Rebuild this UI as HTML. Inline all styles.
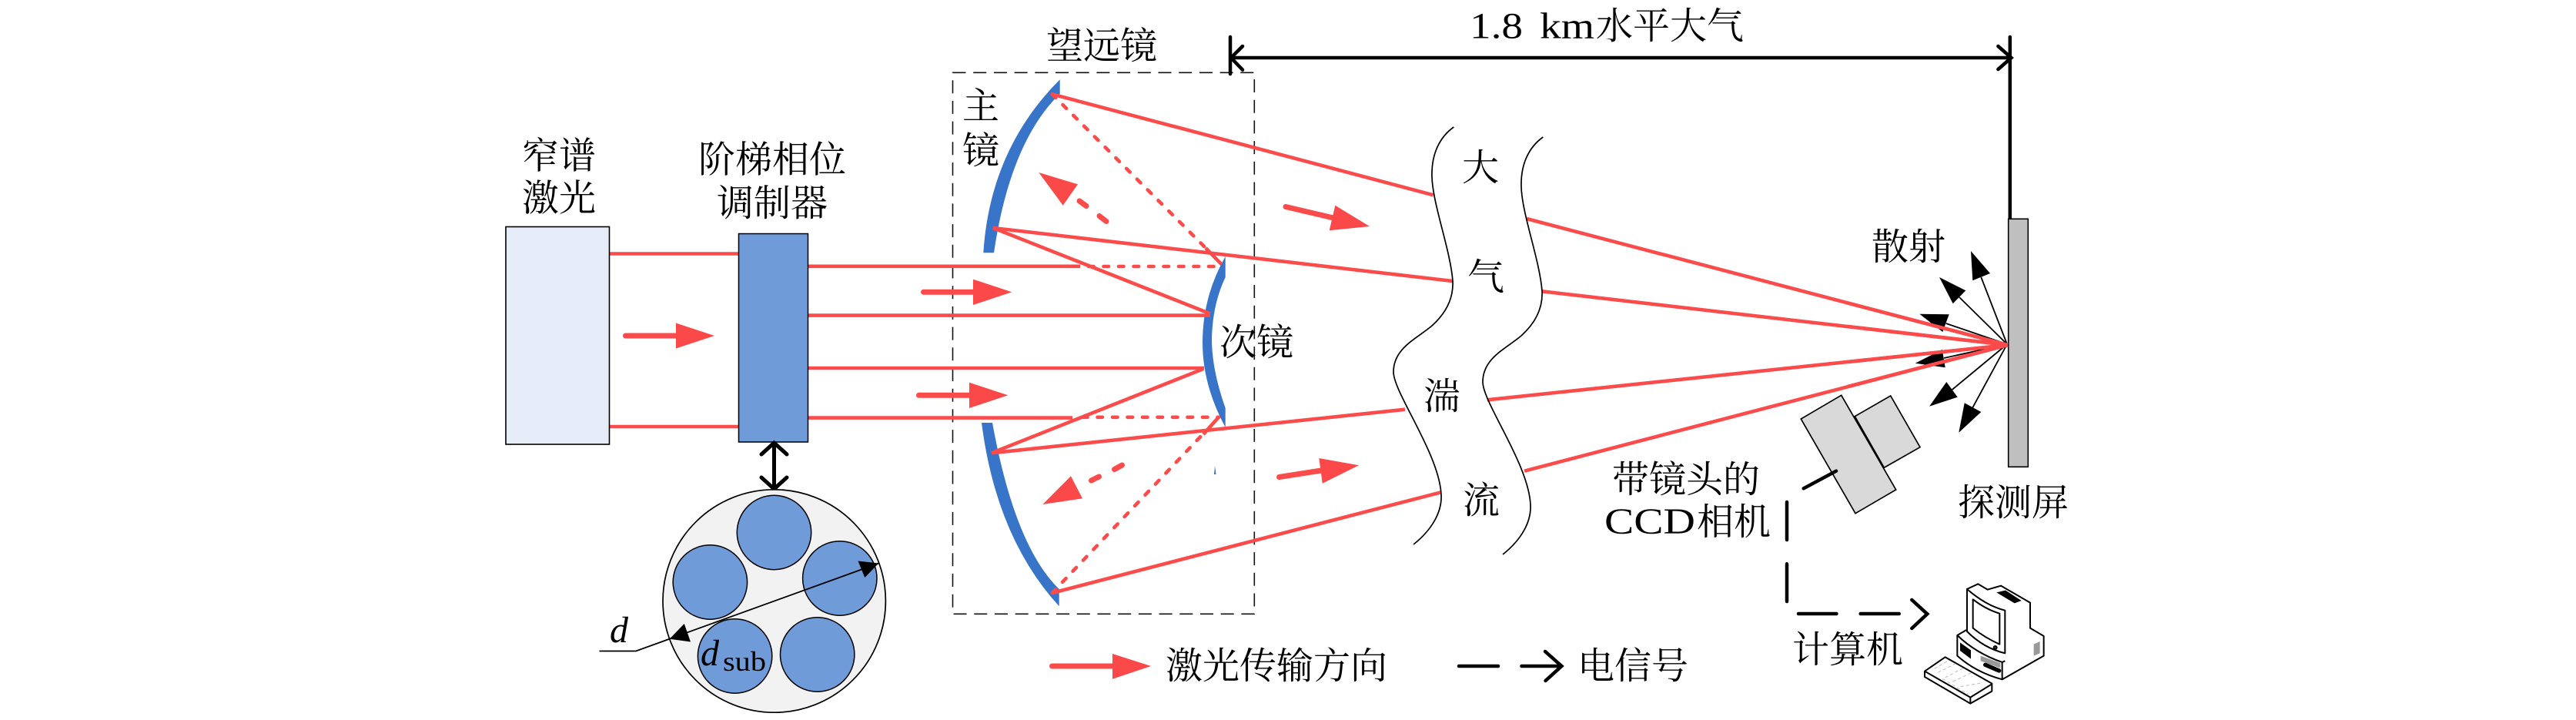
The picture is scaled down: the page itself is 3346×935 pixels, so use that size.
<!DOCTYPE html>
<html lang="zh"><head><meta charset="utf-8"><title>Diagram</title>
<style>
html,body{margin:0;padding:0;background:#fff;width:3346px;height:935px;overflow:hidden}
svg{display:block}
text{font-family:"Liberation Serif","Noto Serif CJK SC",serif;font-size:48px;fill:#000}
.r{stroke:#fb4b4b;stroke-width:4.6;fill:none}
.rd{stroke:#fb4b4b;stroke-width:4.6;fill:none;stroke-dasharray:6.5 13;stroke-linecap:round}
.ra{stroke:#fb4b4b;stroke-width:7;fill:none;stroke-linecap:round}
.rh{fill:#fb4848}
.k{stroke:#000;stroke-width:4.5;fill:none;stroke-linecap:round;stroke-linejoin:miter}
.s{stroke:#000;stroke-width:1.7;fill:none}
.h{fill:#000}
</style></head><body>
<svg xmlns="http://www.w3.org/2000/svg" width="3346" height="935" viewBox="0 0 3346 935">
<rect width="3346" height="935" fill="#fff"/>

<!-- telescope box -->
<rect x="1237.5" y="94.3" width="391.8" height="703" fill="none" stroke="#111" stroke-width="1.6" stroke-dasharray="17 9.7"/>

<!-- laser -->
<line class="r" x1="790" y1="329.5" x2="960" y2="329.5"/>
<line class="r" x1="790" y1="554" x2="960" y2="554"/>
<rect x="657" y="294.5" width="134.5" height="282.5" fill="#e6edf8" stroke="#000" stroke-width="1.6"/>
<line class="ra" x1="812.5" y1="436" x2="880" y2="436"/>
<polygon class="rh" points="878,419.5 928,436 878,452.5"/>

<!-- mirrors -->
<path fill="#3874c8" d="M1277.3,328.3 Q1286,194 1376.7,103.3 L1376.7,121.7 Q1312,185 1291,328.3 Z"/>
<path fill="#3874c8" d="M1275,549 Q1294,698 1375.7,787.3 L1375.7,765 Q1318,709 1289,549 Z"/>
<path fill="#3874c8" d="M1591.7,333 L1591.7,360 Q1575,395 1574,440 Q1574,480 1591.7,530 L1591.7,555 Q1562,500 1562,445 Q1562,385 1591.7,333 Z"/>
<polygon fill="#3874c8" points="1578,605 1579.5,616 1577,616"/>

<!-- incoming rays -->
<line class="r" x1="1049" y1="345.8" x2="1403" y2="345.8"/>
<line class="rd" x1="1414" y1="346" x2="1585" y2="346"/>
<line class="r" x1="1049" y1="409.6" x2="1572" y2="409.6"/>
<line class="r" x1="1049" y1="478" x2="1564" y2="478"/>
<line class="r" x1="1049" y1="542.6" x2="1393" y2="542.6"/>
<line class="rd" x1="1406" y1="541.8" x2="1583" y2="541.8"/>

<!-- reflected rays -->
<line class="r" x1="1571.7" y1="407.3" x2="1290" y2="296"/>
<line class="r" x1="1563" y1="479" x2="1288" y2="588.3"/>
<line class="rd" x1="1366.7" y1="122.3" x2="1570" y2="326"/>
<line class="r" x1="1566" y1="322" x2="1586.7" y2="343.3"/>
<line class="rd" x1="1366.7" y1="770" x2="1565" y2="561"/>
<line class="r" x1="1563" y1="564" x2="1583" y2="541.7"/>

<!-- outgoing -->
<line class="r" x1="1366.7" y1="122.3" x2="1861.7" y2="253.3"/>
<line class="r" x1="1983" y1="284" x2="2608" y2="448"/>
<line class="r" x1="1290" y1="296" x2="1886.7" y2="365"/>
<line class="r" x1="2003" y1="378.3" x2="2608" y2="448"/>
<line class="r" x1="1288" y1="588.3" x2="1825" y2="531.7"/>
<line class="r" x1="1931.7" y1="519.3" x2="2608" y2="448"/>
<line class="r" x1="1366.7" y1="770" x2="1871.7" y2="639.3"/>
<line class="r" x1="1980" y1="611.7" x2="2608" y2="448"/>

<!-- direction arrows -->
<line class="ra" x1="1199.5" y1="379.3" x2="1266" y2="379.3"/>
<polygon class="rh" points="1264,362.7 1314.3,379.3 1264,396"/>
<line class="ra" x1="1193.5" y1="513.3" x2="1261" y2="513.3"/>
<polygon class="rh" points="1259,496.7 1309.3,513.3 1259,530"/>
<polygon class="rh" points="1349.3,224 1400,239.3 1380.7,266.7"/>
<line class="ra" x1="1402" y1="261" x2="1411" y2="267.5"/>
<line class="ra" x1="1428" y1="280.5" x2="1437" y2="287.5"/>
<polygon class="rh" points="1354.3,655 1391,618.3 1406,647.3"/>
<line class="ra" x1="1417.5" y1="624" x2="1427.5" y2="619"/>
<line class="ra" x1="1447.5" y1="609.5" x2="1457.5" y2="604"/>
<line class="ra" x1="1670" y1="268.5" x2="1732" y2="283"/>
<polygon class="rh" points="1734.3,266.7 1726.7,299.3 1779,294"/>
<line class="ra" x1="1661.5" y1="619.5" x2="1716" y2="611"/>
<polygon class="rh" points="1713.3,595 1717.7,627.7 1765,604.3"/>

<!-- turbulence -->
<g fill="none" stroke="#000" stroke-width="1.7">
<path d="M1888.3,165 C1870,178 1859,200 1860,230 C1861,265 1884,325 1887,365 C1888,385 1880,405 1860,423 C1840,440 1810,452 1810,483 C1810,510 1870,590 1872,643 C1873,665 1860,688 1836,707"/>
<path transform="translate(116,13)" d="M1888.3,165 C1870,178 1859,200 1860,230 C1861,265 1884,325 1887,365 C1888,385 1880,405 1860,423 C1840,440 1810,452 1810,483 C1810,510 1870,590 1872,643 C1873,665 1860,688 1836,707"/>
</g>

<!-- modulator -->
<rect x="959.5" y="303.5" width="90" height="270.5" fill="#6f9bd9" stroke="#000" stroke-width="1.5"/>
<line x1="1005.5" y1="576" x2="1005.5" y2="635" stroke="#000" stroke-width="5"/>
<polyline class="k" style="stroke-width:5" points="989,590 1005.5,575 1022,590"/>
<polyline class="k" style="stroke-width:5" points="989,620 1005.5,635 1022,620"/>

<!-- aperture -->
<circle cx="1005.7" cy="780.5" r="144.7" fill="#f2f2f2" stroke="#000" stroke-width="1.7"/>
<g fill="#6f9bd9" stroke="#000" stroke-width="1.5">
<circle cx="1005.5" cy="691.5" r="48.2"/>
<circle cx="922.4" cy="756" r="48.2"/>
<circle cx="1090.8" cy="751" r="48.2"/>
<circle cx="954.6" cy="852" r="48.2"/>
<circle cx="1061.7" cy="850" r="48.2"/>
</g>
<polyline fill="none" stroke="#000" stroke-width="1.8" points="778.5,845.5 826,845.5 1141.3,731.5"/>
<polygon class="h" points="1141.3,731.5 1114.5,728.5 1123.3,750"/>
<polygon class="h" points="869.6,829.7 888.8,810 897,833.5"/>
<text x="792" y="834" font-style="italic" style="font-size:48px">d</text>
<text x="910" y="864" font-style="italic" style="font-size:48px">d</text>
<text x="939" y="871" textLength="56" lengthAdjust="spacingAndGlyphs" style="font-size:36px">sub</text>

<!-- distance arrow -->
<line class="k" x1="1598" y1="75" x2="2611" y2="75"/>
<line class="k" x1="1598" y1="48" x2="1598" y2="96"/>
<polyline class="k" points="1614,60 1599,75 1614,90.7"/>
<line class="k" x1="2610.8" y1="48" x2="2610.8" y2="285"/>
<polyline class="k" points="2595.4,60 2612.5,75 2595.4,90"/>

<!-- screen -->
<rect x="2608.7" y="284.3" width="25.6" height="322" fill="#bfbfbf" stroke="#000" stroke-width="1.6"/>

<!-- scatter -->
<g stroke="#000" stroke-width="1.8" fill="none">
<line x1="2607" y1="447" x2="2573.3" y2="360"/>
<line x1="2607" y1="447" x2="2545" y2="386"/>
<line x1="2607" y1="447" x2="2527.7" y2="420"/>
<line x1="2607" y1="447" x2="2525" y2="465"/>
<line x1="2607" y1="447" x2="2535.7" y2="506"/>
<line x1="2607" y1="447" x2="2562.3" y2="529.3"/>
</g>
<g class="h">
<polygon points="2560,326 2562.3,364.3 2585,355"/>
<polygon points="2519,360 2536.7,394.3 2553.3,377.3"/>
<polygon points="2493.3,407.7 2531.7,408.3 2523.3,431"/>
<polygon points="2487.7,471.7 2522.7,454 2526.7,477.3"/>
<polygon points="2506,527.7 2528.3,496 2542.7,515.7"/>
<polygon points="2544.3,561.7 2551.7,523.3 2573.3,535"/>
</g>
<!-- red over scatter -->
<line class="r" x1="2400" y1="393.5" x2="2608" y2="448"/>
<line class="r" x1="2400" y1="424" x2="2608" y2="448"/>
<line class="r" x1="2400" y1="470" x2="2608" y2="448"/>
<line class="r" x1="2400" y1="502" x2="2608" y2="448"/>

<!-- camera -->
<g fill="#d9d9d9" stroke="#000" stroke-width="1.7">
<polygon points="2455.7,514 2409.3,540.7 2447.3,607.3 2494,580.7"/>
<polygon points="2391.7,513.3 2339.3,544 2410,666.7 2462.7,636"/>
</g>
<line x1="2342.7" y1="634.3" x2="2385" y2="611.7" stroke="#000" stroke-width="4.5" stroke-linecap="round"/>

<!-- signal -->
<line class="k" x1="2321" y1="652" x2="2321" y2="701"/>
<line class="k" x1="2321" y1="732.3" x2="2321" y2="781"/>
<line class="k" x1="2336" y1="797" x2="2385.4" y2="797"/>
<line class="k" x1="2416.7" y1="797" x2="2466.7" y2="797"/>
<polyline class="k" points="2483.3,779 2503.3,797.3 2483.3,816"/>

<!-- computer -->
<g transform="translate(2490,745) scale(0.3333)" fill="#fff" stroke="#000" stroke-width="6" stroke-linejoin="round">
<path d="M157,240 L195,218 L195,60 L238,40 L275,62 L327,47 L441,113 L441,212 L494,243 L494,320 L332,412 Q230,385 157,320 Z"/>
<path d="M157,240 Q230,310 332,345 L332,412" fill="none"/>
<path d="M332,345 L343,340" fill="none"/>
<path d="M195,60 Q270,125 343,143 L343,310 Q260,290 195,225 Z"/>
<path d="M218,100 Q270,140 322,155 L322,275 Q265,250 218,212 Z"/>
<polygon points="310,73 345,65 407,105 380,115" fill="#000" stroke="none"/>
<polygon points="168,268 210,298 210,332 168,300" fill="#000" stroke="none"/>
<polygon points="248,320 325,348 325,368 248,340" fill="#999" stroke="none"/>
<path d="M266,355 L320,378" stroke-width="16" stroke-linecap="round" fill="none"/>
<circle cx="305" cy="288" r="6" fill="#444"/>
<polygon points="455,275 479,264 479,310 455,320" fill="#999" stroke="none"/>
<path d="M30,380 L110,325 L292,428 L292,458 L208,506 L30,402 Z"/>
<path d="M30,380 L208,482 L292,430 M208,482 L208,506" fill="none"/>
<path d="M68,370 L120,340 M82,385 L150,350 M110,405 L185,365 M140,420 L215,385 M170,440 L255,425 M100,410 L200,470" stroke="#bbb" stroke-width="3" stroke-dasharray="12 10" fill="none"/>
</g>

<!-- legend -->
<line class="ra" x1="1366.5" y1="865" x2="1447" y2="865"/>
<polygon class="rh" points="1445,849 1495,865 1445,881.7"/>
<line class="k" x1="1895" y1="865" x2="1946" y2="865"/>
<line class="k" x1="1976.5" y1="865" x2="2027" y2="865"/>
<polyline class="k" points="2007,846 2028.4,865 2007.5,884"/>

<!-- labels -->
<text x="678" y="218.5">窄谱</text>
<text x="678" y="273.5">激光</text>
<text x="907" y="223.5">阶梯相位</text>
<text x="931" y="280">调制器</text>
<text x="1359" y="76">望远镜</text>
<text x="1250" y="154">主</text>
<text x="1250" y="212">镜</text>
<text x="1584" y="461">次镜</text>
<text x="1899" y="234">大</text>
<text x="1906" y="376">气</text>
<text x="1849" y="531">湍</text>
<text x="1900" y="666">流</text>
<text x="1909" y="49.5" textLength="69" lengthAdjust="spacingAndGlyphs">1.8</text>
<text x="2000" y="49.5" textLength="71" lengthAdjust="spacingAndGlyphs">km</text>
<text x="2073" y="50">水平大气</text>
<text x="2431" y="337">散射</text>
<text x="2094" y="639">带镜头的</text>
<text x="2084" y="693" textLength="118" lengthAdjust="spacingAndGlyphs">CCD</text>
<text x="2204" y="694">相机</text>
<text x="2543" y="669">探测屏</text>
<text x="2328" y="860">计算机</text>
<text x="1514" y="881">激光传输方向</text>
<text x="2049" y="881">电信号</text>
</svg>
</body></html>
